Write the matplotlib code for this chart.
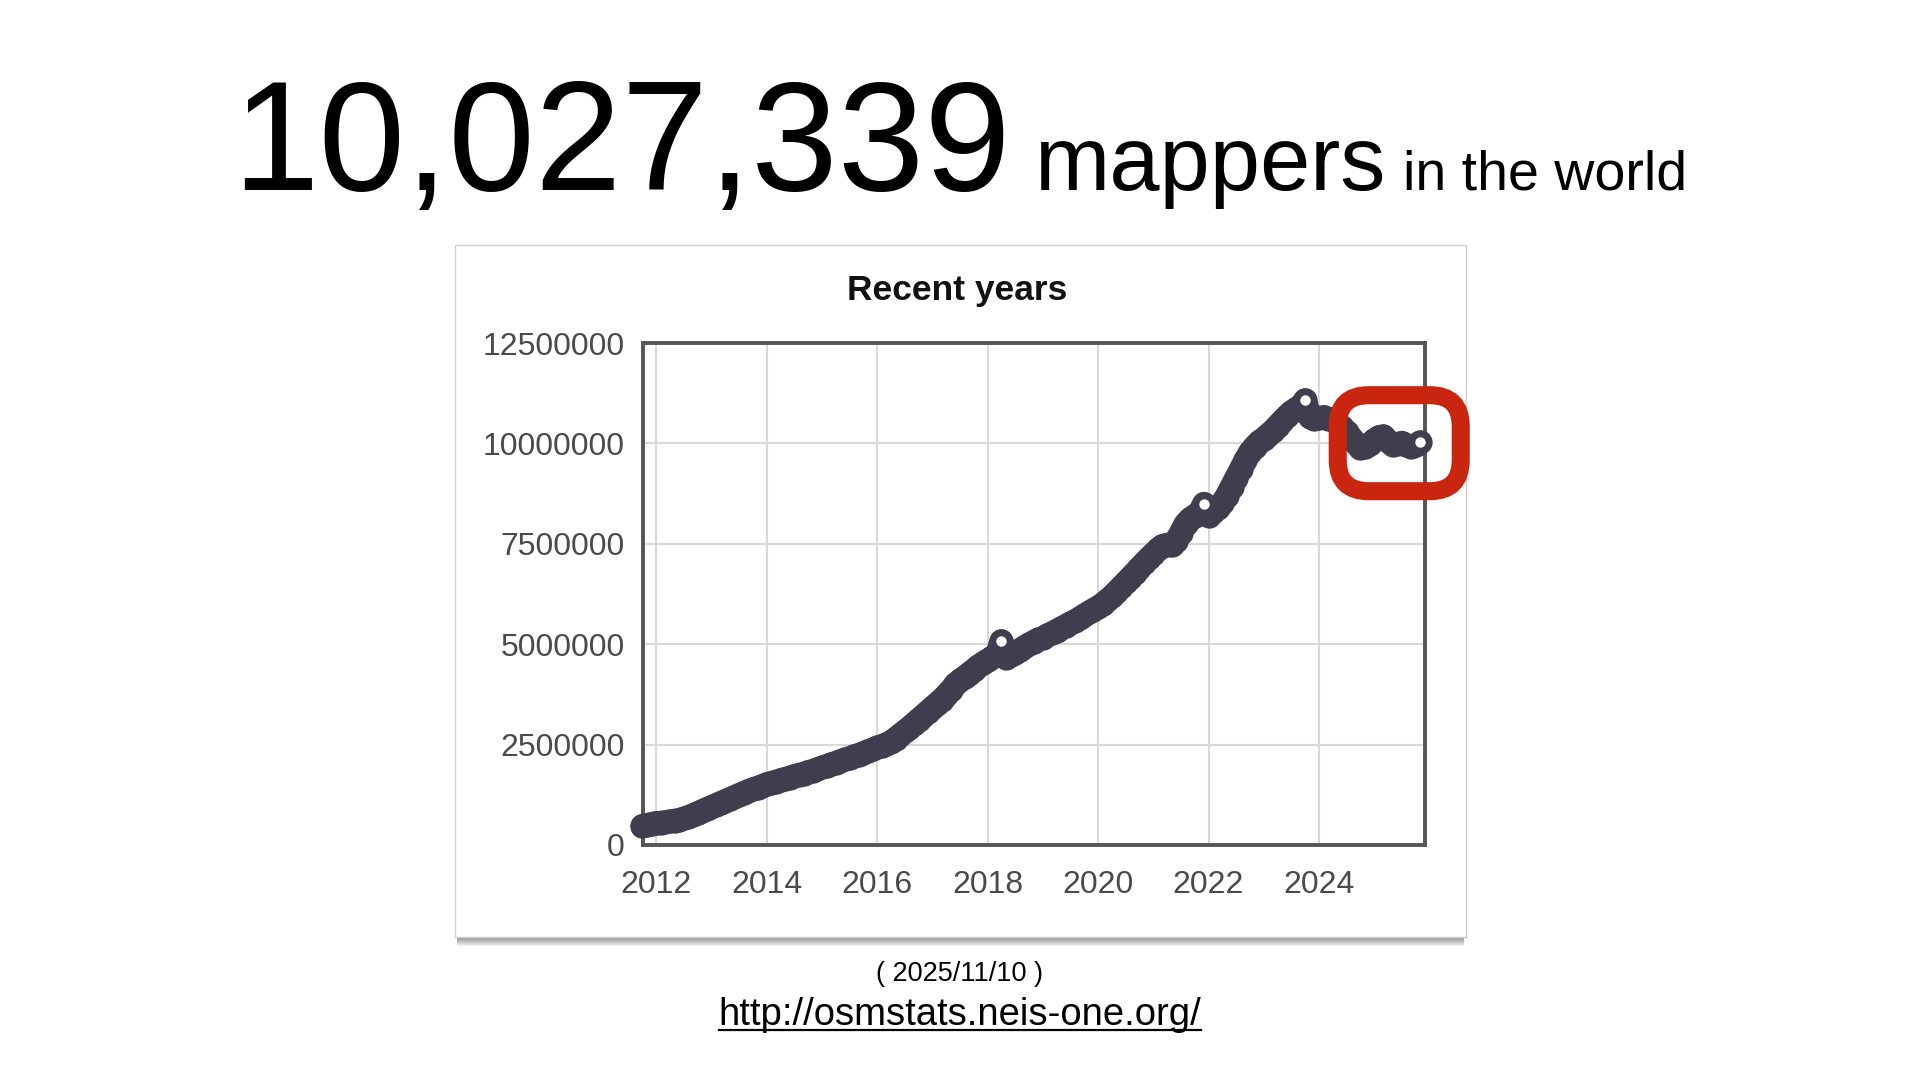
import numpy as np
import pandas as pd
import matplotlib
matplotlib.use('Agg')
import matplotlib.pyplot as plt
from matplotlib.patches import Rectangle, FancyBboxPatch
from matplotlib.lines import Line2D
from matplotlib.transforms import IdentityTransform

plt.rcParams['font.family'] = ['Liberation Sans', 'DejaVu Sans']

# --- Data ---
total_mappers = '10,027,339'
snapshot_date = '2025/11/10'
source_url = 'http://osmstats.neis-one.org/'
chart_title = 'Recent years'

first_month = '2011-10-01'
# monthly number of mappers, in millions
mappers_millions = [
    0.48, 0.50, 0.53,                                                      # 2011 Oct-Dec
    0.55, 0.56, 0.57, 0.59, 0.61, 0.63, 0.66, 0.70, 0.75, 0.80, 0.85, 0.90,  # 2012
    0.95, 1.00, 1.05, 1.10, 1.15, 1.20, 1.25, 1.30, 1.35, 1.39, 1.43, 1.47,  # 2013
    1.52, 1.55, 1.58, 1.62, 1.65, 1.68, 1.72, 1.75, 1.78, 1.82, 1.85, 1.89,  # 2014
    1.93, 1.97, 2.01, 2.05, 2.09, 2.13, 2.17, 2.21, 2.25, 2.29, 2.34, 2.38,  # 2015
    2.43, 2.47, 2.51, 2.57, 2.65, 2.74, 2.83, 2.92, 3.02, 3.12, 3.22, 3.32,  # 2016
    3.42, 3.52, 3.62, 3.73, 3.86, 4.00, 4.10, 4.18, 4.27, 4.36, 4.45, 4.53,  # 2017
    4.60, 4.67, 4.74, 5.08, 4.66, 4.72, 4.79, 4.86, 4.93, 5.00, 5.06, 5.12,  # 2018
    5.16, 5.22, 5.28, 5.34, 5.40, 5.46, 5.52, 5.58, 5.65, 5.72, 5.79, 5.86,  # 2019
    5.92, 6.00, 6.09, 6.19, 6.30, 6.42, 6.54, 6.66, 6.78, 6.90, 7.02, 7.14,  # 2020
    7.25, 7.36, 7.45, 7.48, 7.46, 7.58, 7.78, 8.00, 8.12, 8.20, 8.26, 8.50,  # 2021
    8.20, 8.30, 8.40, 8.52, 8.70, 8.92, 9.14, 9.36, 9.58, 9.78, 9.92, 10.04,  # 2022
    10.12, 10.22, 10.32, 10.44, 10.56, 10.68, 10.78, 10.86, 10.92, 11.08, 10.66, 10.62,  # 2023
    10.64, 10.66, 10.62, 10.58, 10.50, 10.40, 10.28, 10.14, 10.00, 9.88, 9.92, 9.98,  # 2024
    10.08, 10.16, 10.18, 10.06, 9.96, 9.98, 10.02, 9.96, 9.92, 9.96, 10.03,  # 2025 Jan-Nov
]
y_ticks = [0, 2500000, 5000000, 7500000, 10000000, 12500000]
x_ticks = [2012, 2014, 2016, 2018, 2020, 2022, 2024]


def main():
    W, H = 1920, 1080
    fig = plt.figure(figsize=(W / 100, H / 100), dpi=100)
    fig.patch.set_facecolor('white')

    months = pd.date_range(first_month, periods=len(mappers_millions), freq='MS')
    x = np.asarray(months.year + (months.month - 1) / 12.0)
    y = np.array(mappers_millions) * 1e6

    # --- Header ---
    base_y = 1 - 190 / H
    fig.text(232 / W, base_y, total_mappers, fontsize=112, va='baseline', ha='left', color='black')
    fig.text(1034 / W, base_y, 'mappers', fontsize=65, va='baseline', ha='left', color='black')
    fig.text(1403 / W, base_y, 'in the world', fontsize=40, va='baseline', ha='left', color='black')

    # --- Card with shadow ---
    card_x, card_y, card_w, card_h = 455, H - 937, 1011, 692
    for k in range(1, 10):
        fig.add_artist(Rectangle((card_x + 2, card_y - k), card_w - 4, card_h, transform=IdentityTransform(),
                                 facecolor='black', edgecolor='none', alpha=0.055, zorder=-2))
    fig.add_artist(Rectangle((card_x, card_y), card_w, card_h, transform=IdentityTransform(),
                             facecolor='white', edgecolor='#d0d0d0', lw=1, zorder=-1))

    fig.text(957 / W, 1 - 290 / H, chart_title, fontsize=25.5, weight='bold', ha='center', va='center',
             color='#111111')

    # --- Chart ---
    ax = fig.add_axes([643 / W, 1 - 845 / H, (1425 - 643) / W, (845 - 343) / H])
    line_color = '#403e4e'
    ax.set_xlim(2011.76, 2025.92)
    ax.set_ylim(0, 12500000)

    ax.plot(x, y, color=line_color, lw=17, solid_capstyle='round', solid_joinstyle='round',
            zorder=3, clip_on=False)
    ax.plot(x, y, ls='none', marker='o', ms=17.5, mew=0, mfc=line_color,
            zorder=4, clip_on=False)

    # white centres stay visible only where no later circle covers them
    pts = ax.transData.transform(np.column_stack([x, y]))
    exposed = []
    for i in range(len(pts)):
        later = pts[i + 1:]
        if len(later) == 0 or np.min(np.hypot(later[:, 0] - pts[i, 0], later[:, 1] - pts[i, 1])) > 12:
            exposed.append(i)
    ax.plot(x[exposed], y[exposed], ls='none', marker='o', ms=7.5, mew=0, mfc='white',
            zorder=5, clip_on=False)

    ax.set_xticks(x_ticks)
    ax.set_xticklabels([str(t) for t in x_ticks])
    ax.set_yticks(y_ticks)
    ax.set_yticklabels([str(t) for t in y_ticks])
    ax.tick_params(axis='both', length=0, labelsize=23, labelcolor='#4a4a4a')
    ax.tick_params(axis='x', pad=18)
    ax.tick_params(axis='y', pad=13)
    ax.grid(True, color='#d9d9d9', lw=1.5)
    ax.set_axisbelow(True)
    for sp in ax.spines.values():
        sp.set_color('#555555')
        sp.set_linewidth(2.8)

    # --- Red highlight around the latest values ---
    px, py = pts[-1]
    bw, bh = 123, 96
    cx, cy = px - 21, py - 1
    box = FancyBboxPatch((cx - bw / 2, cy - bh / 2), bw, bh, boxstyle='round,pad=0,rounding_size=31',
                         transform=IdentityTransform(), facecolor='none', edgecolor='#c8260f',
                         lw=13, zorder=10)
    fig.add_artist(box)

    # --- Footer ---
    fig.text(960 / W, 1 - 981 / H, f'( {snapshot_date} )', fontsize=19.5, ha='center', va='baseline',
             color='black')
    url = fig.text(960 / W, 1 - 1025 / H, source_url, fontsize=27.5, ha='center', va='baseline',
                   color='black')
    renderer = fig.canvas.get_renderer()
    bb = url.get_window_extent(renderer)
    uy = (H - 1025 - 5) / H
    fig.add_artist(Line2D([bb.x0 / W, bb.x1 / W], [uy, uy], transform=fig.transFigure,
                          color='black', lw=1.6))

    fig.savefig('out.png', dpi=100)


if __name__ == '__main__':
    main()
